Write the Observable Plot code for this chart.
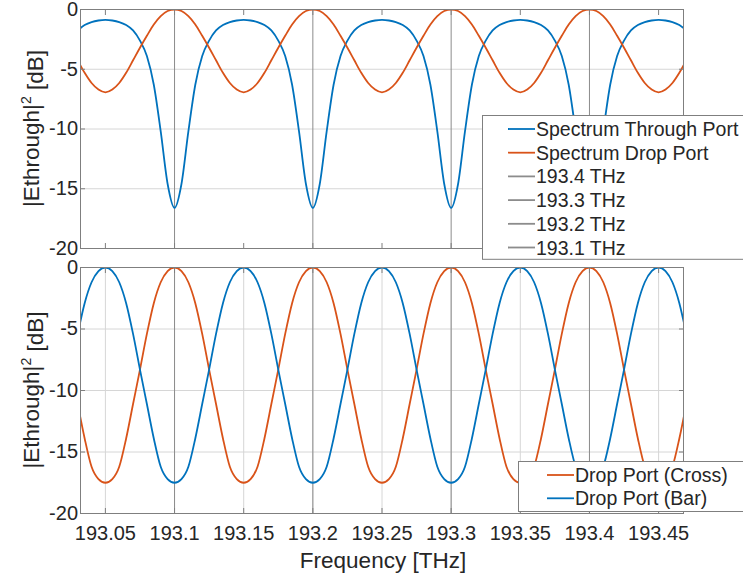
<!DOCTYPE html>
<html><head><meta charset="utf-8">
<script src="https://cdn.jsdelivr.net/npm/d3@7"></script>
<script src="https://cdn.jsdelivr.net/npm/@observablehq/plot@0.6"></script>
<style>
html,body{margin:0;padding:0;background:#fff;}
#wrap{position:relative;width:743px;height:579px;overflow:hidden;font-family:"Liberation Sans",Arial,sans-serif;}
#wrap > svg{display:block;}
</style></head><body><div id="wrap"></div>
<script>
// Frequency samples [THz]
const freq = [193.03, 193.035, 193.04, 193.045, 193.05, 193.055, 193.06, 193.065, 193.07, 193.075, 193.08, 193.085, 193.09, 193.095, 193.1, 193.105, 193.11, 193.115, 193.12, 193.125, 193.13, 193.135, 193.14, 193.145, 193.15, 193.155, 193.16, 193.165, 193.17, 193.175, 193.18, 193.185, 193.19, 193.195, 193.2, 193.205, 193.21, 193.215, 193.22, 193.225, 193.23, 193.235, 193.24, 193.245, 193.25, 193.255, 193.26, 193.265, 193.27, 193.275, 193.28, 193.285, 193.29, 193.295, 193.3, 193.305, 193.31, 193.315, 193.32, 193.325, 193.33, 193.335, 193.34, 193.345, 193.35, 193.355, 193.36, 193.365, 193.37, 193.375, 193.38, 193.385, 193.39, 193.395, 193.4, 193.405, 193.41, 193.415, 193.42, 193.425, 193.43, 193.435, 193.44, 193.445, 193.45, 193.455, 193.46, 193.465, 193.47];

// Top panel [dB]
const throughPort = [-1.75, -1.3, -1.05, -0.92, -0.87,
  -0.92, -1.05, -1.3, -1.75, -2.6, -3.9, -6.3, -10.2, -14.6, -16.6, -14.6, -10.2, -6.3, -3.9, -2.6, -1.75, -1.3, -1.05, -0.92, -0.87,
  -0.92, -1.05, -1.3, -1.75, -2.6, -3.9, -6.3, -10.2, -14.6, -16.6, -14.6, -10.2, -6.3, -3.9, -2.6, -1.75, -1.3, -1.05, -0.92, -0.87,
  -0.92, -1.05, -1.3, -1.75, -2.6, -3.9, -6.3, -10.2, -14.6, -16.6, -14.6, -10.2, -6.3, -3.9, -2.6, -1.75, -1.3, -1.05, -0.92, -0.87,
  -0.92, -1.05, -1.3, -1.75, -2.6, -3.9, -6.3, -10.2, -14.6, -16.6, -14.6, -10.2, -6.3, -3.9, -2.6, -1.75, -1.3, -1.05, -0.92, -0.87,
  -0.92, -1.05, -1.3, -1.75];
const dropPort = [-4.25, -5.3, -6.15, -6.7, -6.93,
  -6.7, -6.15, -5.3, -4.25, -3.2, -2.2, -1.25, -0.55, -0.13, 0, -0.13, -0.55, -1.25, -2.2, -3.2, -4.25, -5.3, -6.15, -6.7, -6.93,
  -6.7, -6.15, -5.3, -4.25, -3.2, -2.2, -1.25, -0.55, -0.13, 0, -0.13, -0.55, -1.25, -2.2, -3.2, -4.25, -5.3, -6.15, -6.7, -6.93,
  -6.7, -6.15, -5.3, -4.25, -3.2, -2.2, -1.25, -0.55, -0.13, 0, -0.13, -0.55, -1.25, -2.2, -3.2, -4.25, -5.3, -6.15, -6.7, -6.93,
  -6.7, -6.15, -5.3, -4.25, -3.2, -2.2, -1.25, -0.55, -0.13, 0, -0.13, -0.55, -1.25, -2.2, -3.2, -4.25, -5.3, -6.15, -6.7, -6.93,
  -6.7, -6.15, -5.3, -4.25];

// Bottom panel [dB]
const crossPort = [-11.1, -13.9, -16.2, -17.2, -17.5,
  -17.2, -16.2, -13.9, -11.1, -8.3, -5.4, -2.9, -1.2, -0.3, 0, -0.3, -1.2, -2.9, -5.4, -8.3, -11.1, -13.9, -16.2, -17.2, -17.5,
  -17.2, -16.2, -13.9, -11.1, -8.3, -5.4, -2.9, -1.2, -0.3, 0, -0.3, -1.2, -2.9, -5.4, -8.3, -11.1, -13.9, -16.2, -17.2, -17.5,
  -17.2, -16.2, -13.9, -11.1, -8.3, -5.4, -2.9, -1.2, -0.3, 0, -0.3, -1.2, -2.9, -5.4, -8.3, -11.1, -13.9, -16.2, -17.2, -17.5,
  -17.2, -16.2, -13.9, -11.1, -8.3, -5.4, -2.9, -1.2, -0.3, 0, -0.3, -1.2, -2.9, -5.4, -8.3, -11.1, -13.9, -16.2, -17.2, -17.5,
  -17.2, -16.2, -13.9, -11.1];
const barPort = [-5.4, -2.9, -1.2, -0.3, 0,
  -0.3, -1.2, -2.9, -5.4, -8.3, -11.1, -13.9, -16.2, -17.2, -17.5, -17.2, -16.2, -13.9, -11.1, -8.3, -5.4, -2.9, -1.2, -0.3, 0,
  -0.3, -1.2, -2.9, -5.4, -8.3, -11.1, -13.9, -16.2, -17.2, -17.5, -17.2, -16.2, -13.9, -11.1, -8.3, -5.4, -2.9, -1.2, -0.3, 0,
  -0.3, -1.2, -2.9, -5.4, -8.3, -11.1, -13.9, -16.2, -17.2, -17.5, -17.2, -16.2, -13.9, -11.1, -8.3, -5.4, -2.9, -1.2, -0.3, 0,
  -0.3, -1.2, -2.9, -5.4, -8.3, -11.1, -13.9, -16.2, -17.2, -17.5, -17.2, -16.2, -13.9, -11.1, -8.3, -5.4, -2.9, -1.2, -0.3, 0,
  -0.3, -1.2, -2.9, -5.4];

const markerFreqs = [193.1, 193.2, 193.3, 193.4];
const yTicks = [-20, -15, -10, -5, 0];
const xTicks = [193.05, 193.1, 193.15, 193.2, 193.25, 193.3, 193.35, 193.4, 193.45];
const xDomain = [193.032, 193.468];
const yDomain = [-20, 0];
const topLegendLabels = ["Spectrum Through Port", "Spectrum Drop Port", "193.4 THz", "193.3 THz", "193.2 THz", "193.1 THz"];
const bottomLegendLabels = ["Drop Port (Cross)", "Drop Port (Bar)"];
const yLabelMain = "|Ethrough|", yLabelSup = "2", yLabelTail = " [dB]";
const xLabel = "Frequency [THz]";

const BLUE = "#0072BD", ORANGE = "#D95319", FRAME = "#7f7f7f", GRID = "#d6d6d6", XLINE = "#8c8c8c", TEXT = "#262626";
const FONT = "'Liberation Sans', Arial, sans-serif";
const fmt = d => String(d);
const blank = () => "";

function inwardTicks() {
  return [
    Plot.axisY(yTicks, {anchor: "left", tickSize: -5, tickFormat: blank, label: null, stroke: FRAME}),
    Plot.axisY(yTicks, {anchor: "right", tickSize: -5, tickFormat: blank, label: null, stroke: FRAME}),
    Plot.axisX(xTicks, {anchor: "bottom", tickSize: -5, tickFormat: blank, label: null, stroke: FRAME}),
    Plot.axisX(xTicks, {anchor: "top", tickSize: -5, tickFormat: blank, label: null, stroke: FRAME})
  ];
}
const lineOpts = {strokeWidth: 1.8, curve: "monotone-x", clip: true};
const chartStyle = {fontFamily: FONT, color: TEXT, background: "transparent", overflow: "visible"};

const topChart = Plot.plot({
  width: 743, height: 258,
  marginLeft: 80, marginRight: 60, marginTop: 9, marginBottom: 10,
  x: {domain: xDomain, axis: null},
  y: {domain: yDomain, axis: null},
  style: chartStyle,
  marks: [
    Plot.gridY(yTicks, {stroke: GRID, strokeOpacity: 1}),
    Plot.ruleX(markerFreqs, {stroke: XLINE, strokeWidth: 1}),
    Plot.lineY(throughPort, {x: freq, stroke: BLUE, ...lineOpts}),
    Plot.lineY(dropPort, {x: freq, stroke: ORANGE, ...lineOpts}),
    ...inwardTicks(),
    Plot.frame({stroke: FRAME}),
    Plot.axisY(yTicks, {anchor: "left", tickSize: 0, tickPadding: 2.5, tickFormat: fmt, fontSize: 20, label: null})
  ]
});

const bottomChart = Plot.plot({
  width: 743, height: 321,
  marginLeft: 80, marginRight: 60, marginTop: 9, marginBottom: 66,
  x: {domain: xDomain, axis: null},
  y: {domain: yDomain, axis: null},
  style: chartStyle,
  marks: [
    Plot.gridY(yTicks, {stroke: GRID, strokeOpacity: 1}),
    Plot.gridX(xTicks, {stroke: GRID, strokeOpacity: 1}),
    Plot.ruleX(markerFreqs, {stroke: XLINE, strokeWidth: 1}),
    Plot.lineY(crossPort, {x: freq, stroke: ORANGE, ...lineOpts}),
    Plot.lineY(barPort, {x: freq, stroke: BLUE, ...lineOpts}),
    ...inwardTicks(),
    Plot.frame({stroke: FRAME}),
    Plot.axisY(yTicks, {anchor: "left", tickSize: 0, tickPadding: 2.5, tickFormat: fmt, fontSize: 20, label: null}),
    Plot.axisX(xTicks, {anchor: "bottom", tickSize: 0, tickPadding: 12, tickFormat: fmt, fontSize: 20, label: null})
  ]
});

const wrap = document.getElementById("wrap");
wrap.appendChild(topChart);
wrap.appendChild(bottomChart);

// Overlay: axis titles and legends
const ov = d3.select(wrap).append("svg")
  .attr("width", 743).attr("height", 579)
  .style("position", "absolute").style("left", "0px").style("top", "0px")
  .style("font-family", FONT);

function yLabel(cx, cy) {
  const t = ov.append("text")
    .attr("transform", `translate(${cx},${cy}) rotate(-90)`)
    .attr("text-anchor", "middle").attr("font-size", 22.5).attr("fill", TEXT);
  t.append("tspan").text(yLabelMain);
  t.append("tspan").attr("font-size", 14).attr("dy", "-0.55em").text(yLabelSup);
  t.append("tspan").attr("dy", "0.55em").text(yLabelTail);
}
yLabel(38.5, 128.5);
yLabel(38.5, 390);

ov.append("text").attr("x", 383).attr("y", 567.5).attr("text-anchor", "middle")
  .attr("font-size", 22.5).attr("fill", TEXT).text(xLabel);

function legend(x, y, w, h, rows, lineX1, lineX2, textX, rowY0, rowStep) {
  const g = ov.append("g");
  g.append("rect").attr("x", x).attr("y", y).attr("width", w).attr("height", h)
    .attr("fill", "white").attr("stroke", FRAME).attr("stroke-width", 1);
  rows.forEach((r, i) => {
    const yy = rowY0 + i * rowStep;
    g.append("line").attr("x1", lineX1).attr("x2", lineX2).attr("y1", yy).attr("y2", yy)
      .attr("stroke", r.color).attr("stroke-width", 1.8);
    g.append("text").attr("x", textX).attr("y", yy + 7).attr("font-size", 19.5)
      .attr("fill", TEXT).text(r.label);
  });
}
const topColors = [BLUE, ORANGE, XLINE, XLINE, XLINE, XLINE];
legend(482.5, 115.5, 300, 143.8,
  topLegendLabels.map((label, i) => ({label, color: topColors[i]})),
  508, 535, 536, 129, 23.7);
const bottomColors = [ORANGE, BLUE];
legend(518.5, 461.5, 300, 50,
  bottomLegendLabels.map((label, i) => ({label, color: bottomColors[i]})),
  547, 574, 575, 475, 23.3);
</script></body></html>
